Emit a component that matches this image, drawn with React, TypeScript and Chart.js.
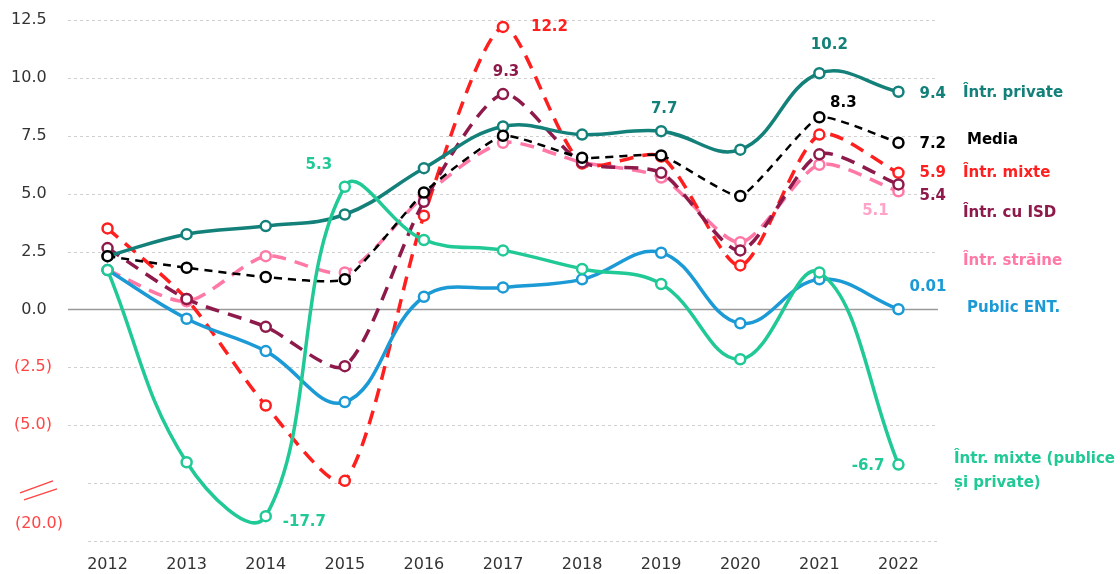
import React, { useEffect, useRef } from "react";
import { Chart, registerables } from "chart.js";

Chart.register(...registerables);

// ---------- DATA ----------
const years = ["2012", "2013", "2014", "2015", "2016", "2017", "2018", "2019", "2020", "2021", "2022"];

const intrPrivate = [2.3, 3.25, 3.6, 4.1, 6.1, 7.9, 7.55, 7.7, 6.9, 10.2, 9.4];
const media = [2.3, 1.8, 1.4, 1.3, 5.05, 7.5, 6.55, 6.65, 4.9, 8.3, 7.2];
const intrMixte = [3.5, 0.45, -4.15, -7.4, 4.05, 12.2, 6.3, 6.6, 1.9, 7.55, 5.9];
const intrISD = [2.65, 0.45, -0.75, -2.45, 4.65, 9.3, 6.35, 5.9, 2.55, 6.7, 5.4];
const intrStraine = [1.7, 0.35, 2.3, 1.6, 4.9, 7.2, 6.35, 5.7, 2.9, 6.25, 5.1];
const publicEnt = [1.7, -0.4, -1.8, -4.0, 0.55, 0.95, 1.3, 2.45, -0.6, 1.3, 0.01];
const intrMixtePP = [1.7, -6.6, -17.7, 5.3, 3.0, 2.55, 1.75, 1.1, -2.15, 1.6, -6.7];

const yTickValues = [12.5, 10, 7.5, 5, 2.5, 0, -2.5, -5];
const breakGridValues = [-7.5, -10];
const brokenTickValue = -20;
const breakStart = -7.5;
const breakFactor = 0.14;
const toDisplay = (v: number) => (v >= breakStart ? v : breakStart + (v - breakStart) * breakFactor);

// ---------- STYLE ----------
const FONT = "'DejaVu Sans', sans-serif";
const NEG_RED = "#ff4545";

type Series = {
  name: string;
  legend: string[];
  data: number[];
  color: string;
  dash: number[];
  width: number;
  tension: number;
  order: number;
  legendX: number;
  legendY: number;
};

const series: Series[] = [
  { name: "privat", legend: ["Într. private"], data: intrPrivate, color: "#13807a", dash: [], width: 3.5, tension: 0.4, order: 3, legendX: 963, legendY: 93 },
  { name: "media", legend: ["Media"], data: media, color: "#000000", dash: [8, 6], width: 2.5, tension: 0.15, order: 2, legendX: 967, legendY: 140 },
  { name: "mixte", legend: ["Într. mixte"], data: intrMixte, color: "#ff1f1f", dash: [14, 9], width: 3.5, tension: 0.25, order: 5, legendX: 963, legendY: 173 },
  { name: "isd", legend: ["Într. cu ISD"], data: intrISD, color: "#8e1a4b", dash: [14, 9], width: 3.5, tension: 0.25, order: 4, legendX: 963, legendY: 213 },
  { name: "straine", legend: ["Într. străine"], data: intrStraine, color: "#ff78a6", dash: [14, 9], width: 3.5, tension: 0.25, order: 6, legendX: 963, legendY: 261 },
  { name: "public", legend: ["Public ENT."], data: publicEnt, color: "#1b9ad6", dash: [], width: 3.5, tension: 0.4, order: 1, legendX: 967, legendY: 308 },
  { name: "mixtePP", legend: ["Într. mixte (publice", "și private)"], data: intrMixtePP, color: "#20c995", dash: [], width: 3.5, tension: 0.4, order: 0, legendX: 954, legendY: 459 },
];

type ValueLabel = { s: number; i: number; dx: number; dy: number; align: CanvasTextAlign; color?: string };
const valueLabels: ValueLabel[] = [
  { s: 0, i: 9, dx: 10, dy: -28, align: "center" },
  { s: 0, i: 10, dx: 21, dy: 2, align: "left" },
  { s: 0, i: 7, dx: 3, dy: -22, align: "center" },
  { s: 1, i: 9, dx: 24, dy: -14, align: "center" },
  { s: 1, i: 10, dx: 21, dy: 1, align: "left" },
  { s: 2, i: 10, dx: 21, dy: 0, align: "left" },
  { s: 2, i: 5, dx: 28, dy: 0, align: "left" },
  { s: 3, i: 10, dx: 21, dy: 12, align: "left" },
  { s: 3, i: 5, dx: 3, dy: -22, align: "center" },
  { s: 4, i: 10, dx: -23, dy: 20, align: "center", color: "#ffa3c8" },
  { s: 5, i: 10, dx: 11, dy: -22, align: "left" },
  { s: 6, i: 10, dx: -14, dy: 2, align: "right" },
  { s: 6, i: 3, dx: -26, dy: -22, align: "center" },
  { s: 6, i: 2, dx: 17, dy: 6, align: "left" },
];

const fmt = (v: number) => (Math.abs(v) < 0.1 && v !== 0 ? v.toFixed(2) : v.toFixed(1));

const overlayPlugin = {
  id: "overlay",
  beforeDatasetsDraw(chart: any) {
    const { ctx, chartArea, scales } = chart;
    const y = scales.y;
    ctx.save();
    yTickValues.forEach((v) => {
      const py = Math.round(y.getPixelForValue(v)) + 0.5;
      ctx.beginPath();
      if (v === 0) {
        ctx.setLineDash([]);
        ctx.strokeStyle = "#9a9a9a";
        ctx.lineWidth = 1.5;
      } else {
        ctx.setLineDash([3, 3]);
        ctx.strokeStyle = "#cfcfcf";
        ctx.lineWidth = 1;
      }
      ctx.moveTo(chartArea.left, py);
      ctx.lineTo(chartArea.right, py);
      ctx.stroke();
    });
    breakGridValues.forEach((v) => {
      const py = Math.round(y.getPixelForValue(v)) + 0.5;
      ctx.beginPath();
      ctx.setLineDash([3, 3]);
      ctx.strokeStyle = "#cfcfcf";
      ctx.lineWidth = 1;
      ctx.moveTo(chartArea.left + 20, py);
      ctx.lineTo(chartArea.right, py);
      ctx.stroke();
    });
    // axis break marker
    const by = y.getPixelForValue(-7.75);
    ctx.setLineDash([]);
    ctx.strokeStyle = NEG_RED;
    ctx.lineWidth = 1.5;
    ctx.beginPath();
    ctx.moveTo(20, by + 4);
    ctx.lineTo(53, by - 8);
    ctx.moveTo(24, by + 11);
    ctx.lineTo(57, by);
    ctx.stroke();
    // broken tick label
    ctx.font = `16px ${FONT}`;
    ctx.fillStyle = NEG_RED;
    ctx.textAlign = "right";
    ctx.textBaseline = "middle";
    ctx.fillText(`(${Math.abs(brokenTickValue).toFixed(1)})`, 63, y.getPixelForValue(toDisplay(brokenTickValue)));
    ctx.restore();
  },
  afterDatasetsDraw(chart: any) {
    const { ctx } = chart;
    ctx.save();
    ctx.textBaseline = "middle";
    ctx.font = `bold 15px ${FONT}`;
    valueLabels.forEach((l) => {
      const meta = chart.getDatasetMeta(l.s);
      const pt = meta.data[l.i];
      if (!pt) return;
      ctx.fillStyle = l.color || series[l.s].color;
      ctx.textAlign = l.align;
      ctx.fillText(fmt(series[l.s].data[l.i]), pt.x + l.dx, pt.y + l.dy);
    });
    ctx.textAlign = "left";
    series.forEach((s) => {
      ctx.fillStyle = s.color;
      s.legend.forEach((line, k) => {
        ctx.fillText(line, s.legendX, s.legendY + k * 24);
      });
    });
    ctx.restore();
  },
};

export default function App() {
  const canvasRef = useRef<HTMLCanvasElement | null>(null);

  useEffect(() => {
    if (!canvasRef.current) return;
    const chart = new Chart(canvasRef.current, {
      type: "line",
      data: {
        labels: years,
        datasets: series.map((s) => ({
          label: s.legend.join(" "),
          data: s.data.map(toDisplay),
          borderColor: s.color,
          backgroundColor: "#ffffff",
          borderWidth: s.width,
          borderDash: s.dash,
          tension: s.tension,
          pointRadius: 5,
          pointBorderWidth: 2.5,
          pointBackgroundColor: "#ffffff",
          pointBorderColor: s.color,
          fill: false,
          order: s.order,
          clip: false as any,
        })),
      },
      options: {
        animation: false,
        responsive: false,
        maintainAspectRatio: false,
        layout: { padding: { top: 20, right: 182, bottom: 0, left: 0 } },
        plugins: { legend: { display: false }, tooltip: { enabled: false } },
        scales: {
          x: {
            type: "category",
            offset: true,
            grid: { display: false },
            border: { display: false },
            ticks: { color: "#333333", font: { family: FONT, size: 16 }, padding: 6, maxRotation: 0 },
            afterFit: (scale: any) => {
              scale.height = 33;
            },
          },
          y: {
            type: "linear",
            min: -10,
            max: 12.5,
            grid: { display: false },
            border: { display: false },
            afterBuildTicks: (scale: any) => {
              scale.ticks = yTickValues.map((v) => ({ value: v }));
            },
            afterFit: (scale: any) => {
              scale.width = 68;
            },
            ticks: {
              padding: 8,
              font: { family: FONT, size: 16 },
              color: (ctx: any) => (ctx.tick && ctx.tick.value < 0 ? NEG_RED : "#333333"),
              callback: (value: any) => {
                const v = Number(value);
                if (v < 0) return `(${(-v).toFixed(1)})`;
                return v.toFixed(1) + "\u2004";
              },
            },
          },
        },
      },
      plugins: [overlayPlugin],
    });
    return () => chart.destroy();
  }, []);

  return (
    <div style={{ position: "fixed", left: 0, top: 0, width: 1120, height: 574, background: "#ffffff" }}>
      <canvas ref={canvasRef} width={1120} height={574} style={{ display: "block" }} />
    </div>
  );
}
